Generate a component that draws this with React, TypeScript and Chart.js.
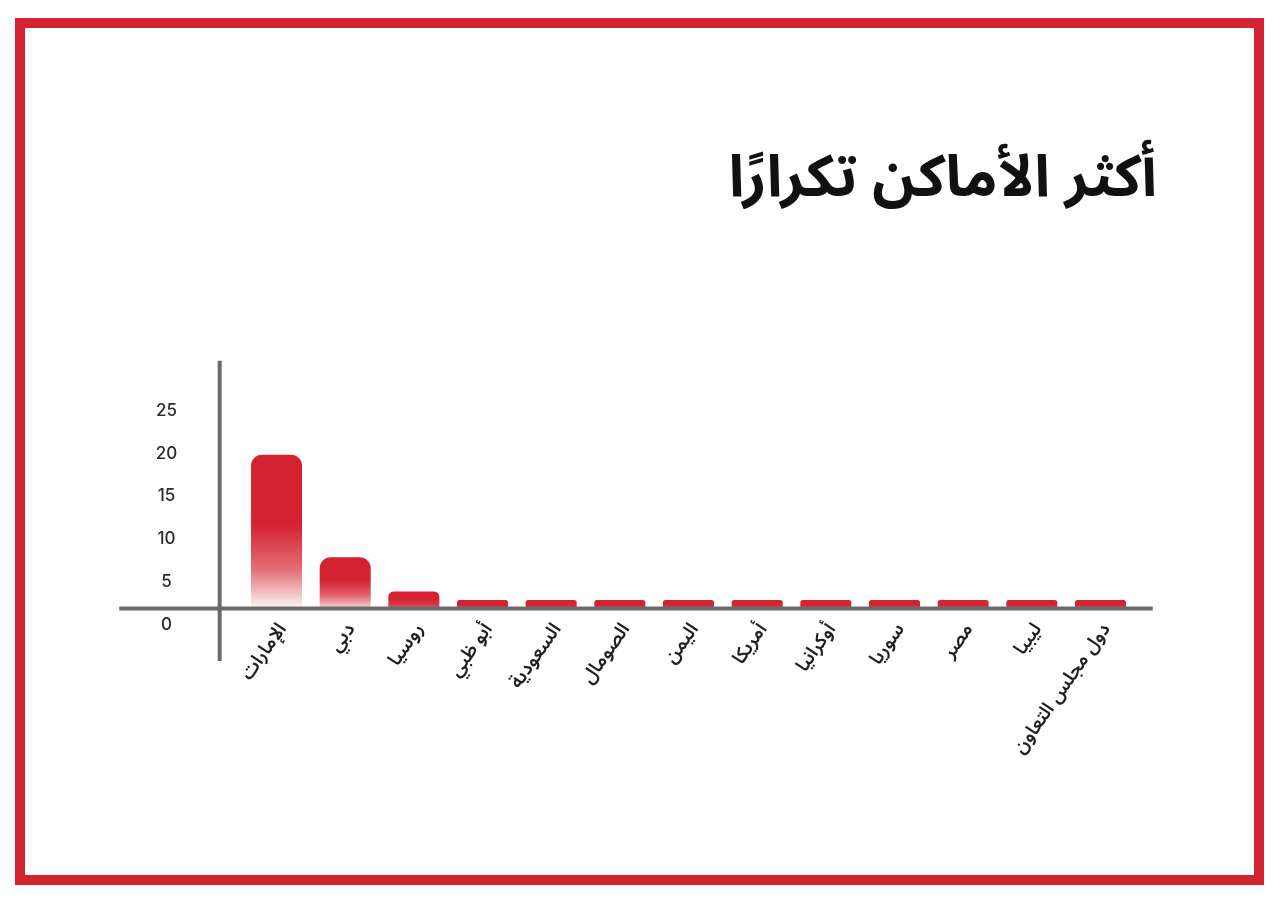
import React, { useEffect, useRef } from "react";
import { Chart, registerables } from "chart.js";

Chart.register(...registerables);

const titleText = "أكثر الأماكن تكرارًا";
const categories = [
  "الإمارات",
  "دبي",
  "روسيا",
  "أبو ظبي",
  "السعودية",
  "الصومال",
  "اليمن",
  "أمريكا",
  "أوكرانيا",
  "سوريا",
  "مصر",
  "ليبيا",
  "دول مجلس التعاون",
];
const counts = [18, 6, 2, 1, 1, 1, 1, 1, 1, 1, 1, 1, 1];
const yTickValues = [0, 5, 10, 15, 20, 25];
const yMax = 29;

const RED = [212, 34, 48];
const AXIS = "#6b6b6b";
const ARABIC_FONT = "'Noto Sans Arabic', 'DejaVu Sans', sans-serif";

const axisLines = {
  id: "axisLines",
  afterDatasetsDraw(chart: any) {
    const { ctx, chartArea } = chart;
    const y0 = chart.scales.y.getPixelForValue(0);
    ctx.save();
    ctx.strokeStyle = AXIS;
    ctx.lineWidth = 4;
    ctx.beginPath();
    ctx.moveTo(chartArea.left - 123, y0);
    ctx.lineTo(chartArea.right + 18, y0);
    ctx.stroke();
    ctx.beginPath();
    ctx.moveTo(chartArea.left - 22.5, chartArea.top);
    ctx.lineTo(chartArea.left - 22.5, y0 + 52.5);
    ctx.stroke();
    ctx.restore();
  },
};

function barFill(context: any) {
  const chart = context.chart;
  const ys = chart.scales?.y;
  if (!ys || !chart.chartArea) return `rgb(${RED.join(",")})`;
  const v = context.parsed ? context.parsed.y : counts[context.dataIndex];
  const top = ys.getPixelForValue(v);
  const base = ys.getPixelForValue(0);
  const h = base - top;
  const f = Math.min(1, h / 60);
  const g = chart.ctx.createLinearGradient(0, top, 0, base);
  const mix = (t: number) =>
    `rgb(${RED.map((c) => Math.round(c + (255 - c) * t)).join(",")})`;
  g.addColorStop(0, mix(0));
  g.addColorStop(0.45, mix(0));
  g.addColorStop(0.75, mix(0.35 * f));
  g.addColorStop(1, mix(0.97 * f));
  return g;
}

function barRadius(context: any) {
  const chart = context.chart;
  const ys = chart.scales?.y;
  if (!ys) return 0;
  const v = context.parsed ? context.parsed.y : counts[context.dataIndex];
  const h = ys.getPixelForValue(0) - ys.getPixelForValue(v);
  const r = Math.min(11, h * 0.3);
  return { topLeft: r, topRight: r, bottomLeft: 0, bottomRight: 0 };
}

export default function App() {
  const canvasRef = useRef<HTMLCanvasElement>(null);

  useEffect(() => {
    if (!canvasRef.current) return;
    const chart = new Chart(canvasRef.current, {
      type: "bar",
      data: {
        labels: categories,
        datasets: [
          {
            data: counts,
            backgroundColor: barFill,
            borderRadius: barRadius,
            borderSkipped: "start",
            barPercentage: 0.743,
            categoryPercentage: 1,
          },
        ],
      },
      options: {
        animation: false,
        responsive: true,
        maintainAspectRatio: false,
        layout: { padding: { left: 122.2, right: 145.2, top: 360.8, bottom: 0 } },
        plugins: {
          legend: { display: false },
          tooltip: { enabled: false },
          title: { display: false },
        },
        scales: {
          x: {
            grid: { display: false, drawTicks: false },
            border: { display: false },
            ticks: {
              autoSkip: false,
              minRotation: 55,
              maxRotation: 55,
              padding: 12,
              labelOffset: 8,
              color: "#1f1f1f",
              font: { family: ARABIC_FONT, size: 19, weight: 600 },
            },
            afterFit(scale: any) {
              scale.height = 295.5;
            },
          },
          y: {
            min: 0,
            max: yMax,
            grid: { display: false, drawTicks: false },
            border: { display: false },
            afterBuildTicks(scale: any) {
              scale.ticks = yTickValues.map((v) => ({ value: v }));
            },
            ticks: {
              crossAlign: "center",
              padding: 65,
              labelOffset: 16,
              color: "#2b2b2b",
              font: { family: "Inter, 'DejaVu Sans', sans-serif", size: 17, weight: 500 },
            },
            afterFit(scale: any) {
              scale.width = 120;
            },
          },
        },
      },
      plugins: [axisLines],
    });
    return () => chart.destroy();
  }, []);

  return (
    <div
      style={{
        position: "absolute",
        left: 0,
        top: 0,
        width: 1280,
        height: 904,
        background: "#ffffff",
        overflow: "hidden",
      }}
    >
      <div
        style={{
          position: "absolute",
          left: 15,
          top: 18,
          width: 1249,
          height: 867,
          boxSizing: "border-box",
          border: "10.5px solid #d42231",
        }}
      />
      <div
        dir="rtl"
        style={{
          position: "absolute",
          right: 123,
          top: 140,
          fontFamily: ARABIC_FONT,
          fontWeight: 700,
          fontSize: 58,
          color: "#111111",
          whiteSpace: "nowrap",
          lineHeight: 1.3,
        }}
      >
        {titleText}
      </div>
      <div style={{ position: "absolute", left: 0, top: 0, width: 1280, height: 904 }}>
        <canvas ref={canvasRef} />
      </div>
    </div>
  );
}
